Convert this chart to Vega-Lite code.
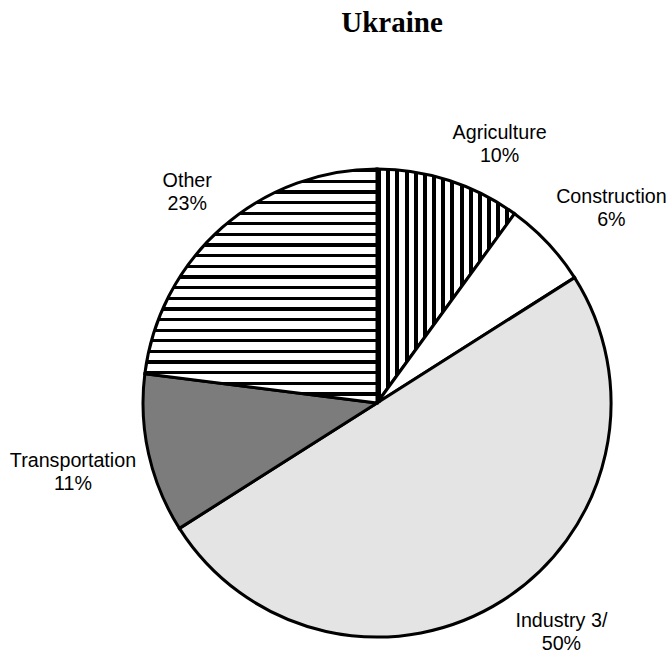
{
  "$schema": "https://vega.github.io/schema/vega-lite/v6.json",
  "autosize": {"type": "none"},
  "width": 468,
  "height": 468,
  "padding": {"left": 143, "top": 169, "right": 61, "bottom": 22},
  "background": "white",
  "title": {"text": "Ukraine", "font": "Liberation Serif", "fontSize": 29, "fontWeight": "bold", "color": "black", "baseline": "alphabetic", "offset": 62, "dx": 15, "anchor": "middle", "frame": "group"},
  "data": {"values": [
    {"category": "Agriculture", "value": 10},
    {"category": "Construction", "value": 6},
    {"category": "Industry 3/", "value": 50},
    {"category": "Transportation", "value": 11},
    {"category": "Other", "value": 23}
  ]},
  "config": {"view": {"stroke": null}},
  "transform": [
    {"window": [{"op": "row_number", "as": "idx"}]},
    {"stack": "value", "groupby": [], "sort": [{"field": "idx", "order": "ascending"}], "as": ["v0", "v1"]},
    {"calculate": "(datum.v0 + datum.v1) / 2", "as": "mid"},
    {"calculate": "datum.category + '\\n' + datum.value + '%'", "as": "label"}
  ],
  "layer": [
    {
      "mark": {"type": "arc", "radius": 234, "stroke": "black", "strokeWidth": 3, "strokeJoin": "miter"},
      "encoding": {
        "theta": {"field": "v0", "type": "quantitative", "scale": {"domain": [0, 100]}},
        "theta2": {"field": "v1"},
        "fill": {
          "condition": [
            {"test": "datum.category === 'Agriculture'", "value": {"gradient": "linear", "x1": 0, "y1": 0, "x2": 1, "y2": 0, "stops": [
              {"offset": 0, "color": "black"}, {"offset": 0.03, "color": "black"}, {"offset": 0.03, "color": "white"}, {"offset": 0.0667, "color": "white"},
              {"offset": 0.0667, "color": "black"}, {"offset": 0.0967, "color": "black"}, {"offset": 0.0967, "color": "white"}, {"offset": 0.1333, "color": "white"},
              {"offset": 0.1333, "color": "black"}, {"offset": 0.1633, "color": "black"}, {"offset": 0.1633, "color": "white"}, {"offset": 0.2, "color": "white"},
              {"offset": 0.2, "color": "black"}, {"offset": 0.23, "color": "black"}, {"offset": 0.23, "color": "white"}, {"offset": 0.2667, "color": "white"},
              {"offset": 0.2667, "color": "black"}, {"offset": 0.2967, "color": "black"}, {"offset": 0.2967, "color": "white"}, {"offset": 0.3333, "color": "white"},
              {"offset": 0.3333, "color": "black"}, {"offset": 0.3633, "color": "black"}, {"offset": 0.3633, "color": "white"}, {"offset": 0.4, "color": "white"},
              {"offset": 0.4, "color": "black"}, {"offset": 0.43, "color": "black"}, {"offset": 0.43, "color": "white"}, {"offset": 0.4667, "color": "white"},
              {"offset": 0.4667, "color": "black"}, {"offset": 0.4967, "color": "black"}, {"offset": 0.4967, "color": "white"}, {"offset": 0.5333, "color": "white"},
              {"offset": 0.5333, "color": "black"}, {"offset": 0.5633, "color": "black"}, {"offset": 0.5633, "color": "white"}, {"offset": 0.6, "color": "white"},
              {"offset": 0.6, "color": "black"}, {"offset": 0.63, "color": "black"}, {"offset": 0.63, "color": "white"}, {"offset": 0.6667, "color": "white"},
              {"offset": 0.6667, "color": "black"}, {"offset": 0.6967, "color": "black"}, {"offset": 0.6967, "color": "white"}, {"offset": 0.7333, "color": "white"},
              {"offset": 0.7333, "color": "black"}, {"offset": 0.7633, "color": "black"}, {"offset": 0.7633, "color": "white"}, {"offset": 0.8, "color": "white"},
              {"offset": 0.8, "color": "black"}, {"offset": 0.83, "color": "black"}, {"offset": 0.83, "color": "white"}, {"offset": 0.8667, "color": "white"},
              {"offset": 0.8667, "color": "black"}, {"offset": 0.8967, "color": "black"}, {"offset": 0.8967, "color": "white"}, {"offset": 0.9333, "color": "white"},
              {"offset": 0.9333, "color": "black"}, {"offset": 0.9633, "color": "black"}, {"offset": 0.9633, "color": "white"}, {"offset": 1, "color": "white"}
            ]}},
            {"test": "datum.category === 'Other'", "value": {"gradient": "linear", "x1": 0, "y1": 0, "x2": 0, "y2": 1, "stops": [
              {"offset": 0, "color": "black"}, {"offset": 0.014, "color": "black"}, {"offset": 0.014, "color": "white"}, {"offset": 0.0455, "color": "white"},
              {"offset": 0.0455, "color": "black"}, {"offset": 0.0595, "color": "black"}, {"offset": 0.0595, "color": "white"}, {"offset": 0.0909, "color": "white"},
              {"offset": 0.0909, "color": "black"}, {"offset": 0.1049, "color": "black"}, {"offset": 0.1049, "color": "white"}, {"offset": 0.1364, "color": "white"},
              {"offset": 0.1364, "color": "black"}, {"offset": 0.1504, "color": "black"}, {"offset": 0.1504, "color": "white"}, {"offset": 0.1818, "color": "white"},
              {"offset": 0.1818, "color": "black"}, {"offset": 0.1958, "color": "black"}, {"offset": 0.1958, "color": "white"}, {"offset": 0.2273, "color": "white"},
              {"offset": 0.2273, "color": "black"}, {"offset": 0.2413, "color": "black"}, {"offset": 0.2413, "color": "white"}, {"offset": 0.2727, "color": "white"},
              {"offset": 0.2727, "color": "black"}, {"offset": 0.2867, "color": "black"}, {"offset": 0.2867, "color": "white"}, {"offset": 0.3182, "color": "white"},
              {"offset": 0.3182, "color": "black"}, {"offset": 0.3322, "color": "black"}, {"offset": 0.3322, "color": "white"}, {"offset": 0.3636, "color": "white"},
              {"offset": 0.3636, "color": "black"}, {"offset": 0.3776, "color": "black"}, {"offset": 0.3776, "color": "white"}, {"offset": 0.4091, "color": "white"},
              {"offset": 0.4091, "color": "black"}, {"offset": 0.4231, "color": "black"}, {"offset": 0.4231, "color": "white"}, {"offset": 0.4545, "color": "white"},
              {"offset": 0.4545, "color": "black"}, {"offset": 0.4685, "color": "black"}, {"offset": 0.4685, "color": "white"}, {"offset": 0.5, "color": "white"},
              {"offset": 0.5, "color": "black"}, {"offset": 0.514, "color": "black"}, {"offset": 0.514, "color": "white"}, {"offset": 0.5455, "color": "white"},
              {"offset": 0.5455, "color": "black"}, {"offset": 0.5595, "color": "black"}, {"offset": 0.5595, "color": "white"}, {"offset": 0.5909, "color": "white"},
              {"offset": 0.5909, "color": "black"}, {"offset": 0.6049, "color": "black"}, {"offset": 0.6049, "color": "white"}, {"offset": 0.6364, "color": "white"},
              {"offset": 0.6364, "color": "black"}, {"offset": 0.6504, "color": "black"}, {"offset": 0.6504, "color": "white"}, {"offset": 0.6818, "color": "white"},
              {"offset": 0.6818, "color": "black"}, {"offset": 0.6958, "color": "black"}, {"offset": 0.6958, "color": "white"}, {"offset": 0.7273, "color": "white"},
              {"offset": 0.7273, "color": "black"}, {"offset": 0.7413, "color": "black"}, {"offset": 0.7413, "color": "white"}, {"offset": 0.7727, "color": "white"},
              {"offset": 0.7727, "color": "black"}, {"offset": 0.7867, "color": "black"}, {"offset": 0.7867, "color": "white"}, {"offset": 0.8182, "color": "white"},
              {"offset": 0.8182, "color": "black"}, {"offset": 0.8322, "color": "black"}, {"offset": 0.8322, "color": "white"}, {"offset": 0.8636, "color": "white"},
              {"offset": 0.8636, "color": "black"}, {"offset": 0.8776, "color": "black"}, {"offset": 0.8776, "color": "white"}, {"offset": 0.9091, "color": "white"},
              {"offset": 0.9091, "color": "black"}, {"offset": 0.9231, "color": "black"}, {"offset": 0.9231, "color": "white"}, {"offset": 0.9545, "color": "white"},
              {"offset": 0.9545, "color": "black"}, {"offset": 0.9685, "color": "black"}, {"offset": 0.9685, "color": "white"}, {"offset": 1, "color": "white"}
            ]}},
            {"test": "datum.category === 'Industry 3/'", "value": "#e4e4e4"},
            {"test": "datum.category === 'Transportation'", "value": "#7c7c7c"}
          ],
          "value": "white"
        }
      }
    },
    {
      "transform": [{"filter": "datum.category === 'Agriculture'"}],
      "mark": {"type": "text", "radius": 290, "dx": 33, "dy": 6, "font": "Liberation Sans", "fontSize": 19.7, "lineBreak": "\n", "lineHeight": 23, "align": "center", "baseline": "middle", "color": "black"},
      "encoding": {"theta": {"field": "mid", "type": "quantitative"}, "text": {"field": "label", "type": "nominal"}}
    },
    {
      "transform": [{"filter": "datum.category === 'Construction'"}],
      "mark": {"type": "text", "radius": 290, "dx": 23, "dy": -7, "font": "Liberation Sans", "fontSize": 19.7, "lineBreak": "\n", "lineHeight": 23, "align": "center", "baseline": "middle", "color": "black"},
      "encoding": {"theta": {"field": "mid", "type": "quantitative"}, "text": {"field": "label", "type": "nominal"}}
    },
    {
      "transform": [{"filter": "datum.category === 'Industry 3/'"}],
      "mark": {"type": "text", "radius": 290, "dx": 29, "dy": -27, "font": "Liberation Sans", "fontSize": 19.7, "lineBreak": "\n", "lineHeight": 23, "align": "center", "baseline": "middle", "color": "black"},
      "encoding": {"theta": {"field": "mid", "type": "quantitative"}, "text": {"field": "label", "type": "nominal"}}
    },
    {
      "transform": [{"filter": "datum.category === 'Transportation'"}],
      "mark": {"type": "text", "radius": 290, "dx": -21, "dy": -5, "font": "Liberation Sans", "fontSize": 19.7, "lineBreak": "\n", "lineHeight": 23, "align": "center", "baseline": "middle", "color": "black"},
      "encoding": {"theta": {"field": "mid", "type": "quantitative"}, "text": {"field": "label", "type": "nominal"}}
    },
    {
      "transform": [{"filter": "datum.category === 'Other'"}],
      "mark": {"type": "text", "radius": 290, "dx": 2, "dy": -4, "font": "Liberation Sans", "fontSize": 19.7, "lineBreak": "\n", "lineHeight": 23, "align": "center", "baseline": "middle", "color": "black"},
      "encoding": {"theta": {"field": "mid", "type": "quantitative"}, "text": {"field": "label", "type": "nominal"}}
    }
  ]
}
